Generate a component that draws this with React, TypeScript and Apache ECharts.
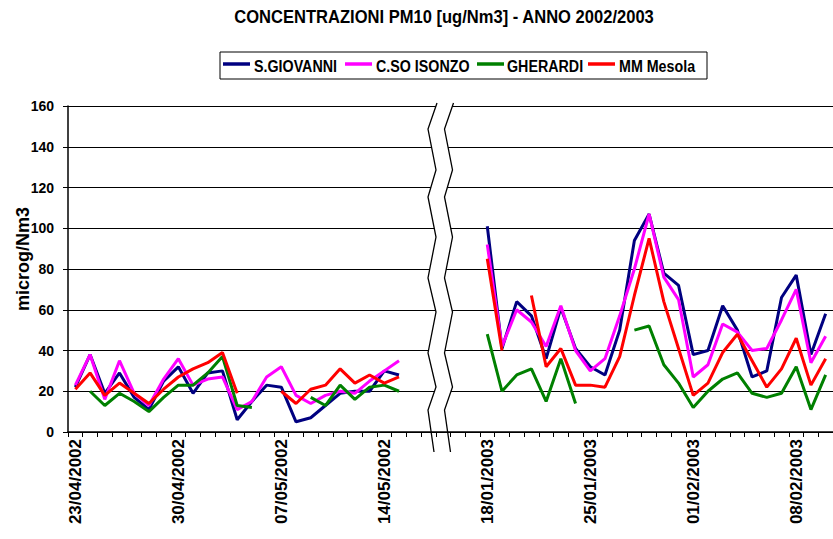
import React, { useEffect, useRef } from 'react';
import * as echarts from 'echarts';

const categories = [
  '23/04/2002', '24/04/2002', '25/04/2002', '26/04/2002', '27/04/2002', '28/04/2002', '29/04/2002',
  '30/04/2002', '01/05/2002', '02/05/2002', '03/05/2002', '04/05/2002', '05/05/2002', '06/05/2002',
  '07/05/2002', '08/05/2002', '09/05/2002', '10/05/2002', '11/05/2002', '12/05/2002', '13/05/2002',
  '14/05/2002', '15/05/2002', '', '', '', '', '',
  '18/01/2003', '19/01/2003', '20/01/2003', '21/01/2003', '22/01/2003', '23/01/2003', '24/01/2003',
  '25/01/2003', '26/01/2003', '27/01/2003', '28/01/2003', '29/01/2003', '30/01/2003', '31/01/2003',
  '01/02/2003', '02/02/2003', '03/02/2003', '04/02/2003', '05/02/2003', '06/02/2003', '07/02/2003',
  '08/02/2003', '09/02/2003', '10/02/2003',
];

const seriesNames = ['S.GIOVANNI', 'C.SO ISONZO', 'GHERARDI', 'MM Mesola'];
const seriesColors = ['#000080', '#ff00ff', '#008000', '#ff0000'];

const sGiovanni = [
  22, 38, 19, 29, 17, 11, 25, 32, 19, 29, 30, 6, 15, 23, 22, 5, 7, 13, 19, 20, 20, 30, 28,
  null, null, null, null, null,
  101, 41, 64, 57, 36, 61, 41, 32, 28, 50, 94, 107, 78, 72, 38, 40, 62, 50, 27, 30, 66, 77, 38, 58,
];
const cSoIsonzo = [
  23, 38, 16, 35, 19, 13, 26, 36, 23, 26, 27, 11, 15, 27, 32, 18, 14, 18, 20, 19, 25, 30, 35,
  null, null, null, null, null,
  92, 42, 60, 54, 42, 62, 40, 30, 36, 57, 80, 107, 76, 65, 27, 33, 53, 49, 40, 41, 55, 70, 34, 47,
];
const gherardi = [
  null, 20, 13, 19, 15, 10, 17, 23, 23, 29, 37, 13, 12, null, null, null, 17, 13, 23, 16, 22, 23, 20,
  null, null, null, null, null,
  48, 20, 28, 31, 15, 36, 14, null, null, null, 50, 52, 33, 24, 12, 20, 26, 29, 19, 17, 19, 32, 11, 28,
];
const mmMesola = [
  21, 29, 18, 24, 19, 14, 21, 27, 31, 34, 39, 19, null, null, 20, 14, 21, 23, 31, 24, 28, 24, 27,
  null, null, null, null, null,
  85, 40, null, 67, 32, 41, 23, 23, 22, 37, 67, 95, 64, 41, 18, 24, 39, 48, 35, 22, 31, 46, 23, 36,
];
const seriesData = [sGiovanni, cSoIsonzo, gherardi, mmMesola];

const FONT = 'Liberation Sans, Arial, Helvetica, sans-serif';

// axis-break zigzag (decoration)
const breakLeft: number[][] = [
  [437, 103], [428, 129], [436, 170], [428, 197], [436, 237], [428, 278],
  [436, 312], [428, 353], [436, 387], [428, 410], [434, 452],
];
const breakOffset = 16.5;

export default function App() {
  const ref = useRef<HTMLDivElement>(null);

  useEffect(() => {
    const chart = echarts.init(ref.current!, null, { renderer: 'svg' });

    const breakRight = breakLeft.map(([x, y]) => [x + breakOffset, y]);
    const fillPoly = breakLeft
      .map(([x, y]) => [x, Math.min(y, 430)])
      .concat(breakRight.slice().reverse().map(([x, y]) => [x, Math.min(y, 430)]));

    const legendLeft = [223, 345, 477, 588];
    const legendTextLeft = [254, 376, 507, 619];
    const legendY = 64;

    const graphics: any[] = [
      {
        type: 'text',
        x: 444,
        y: 17,
        scaleX: 0.92,
        z: 50,
        style: {
          text: 'CONCENTRAZIONI PM10 [ug/Nm3] - ANNO 2002/2003',
          fill: '#000',
          font: `bold 18px ${FONT}`,
          textAlign: 'center',
          textVerticalAlign: 'middle',
          align: 'center',
          verticalAlign: 'middle',
        },
      },
      {
        type: 'rect',
        z: 50,
        shape: { x: 220, y: 52, width: 487, height: 27 },
        style: { fill: '#fff', stroke: '#000', lineWidth: 1 },
      },
      {
        type: 'text',
        x: 23,
        y: 259,
        rotation: Math.PI / 2,
        z: 50,
        style: {
          text: 'microg/Nm3',
          fill: '#000',
          font: `bold 18px ${FONT}`,
          textAlign: 'center',
          textVerticalAlign: 'middle',
          align: 'center',
          verticalAlign: 'middle',
        },
      },
      {
        type: 'polygon',
        z: 50,
        shape: { points: fillPoly },
        style: { fill: '#fff', stroke: null },
      },
      {
        type: 'polyline',
        z: 51,
        shape: { points: breakLeft },
        style: { stroke: '#000', lineWidth: 1.3, fill: null },
      },
      {
        type: 'polyline',
        z: 51,
        shape: { points: breakRight },
        style: { stroke: '#000', lineWidth: 1.3, fill: null },
      },
    ];

    seriesNames.forEach((name, i) => {
      graphics.push({
        type: 'line',
        z: 51,
        shape: { x1: legendLeft[i], y1: legendY, x2: legendLeft[i] + 27, y2: legendY },
        style: { stroke: seriesColors[i], lineWidth: 3.5 },
      });
      graphics.push({
        type: 'text',
        x: legendTextLeft[i],
        y: legendY + 2,
        scaleX: 0.84,
        z: 51,
        style: {
          text: name,
          fill: '#000',
          font: `bold 17px ${FONT}`,
          textAlign: 'left',
          textVerticalAlign: 'middle',
          align: 'left',
          verticalAlign: 'middle',
        },
      });
    });

    chart.setOption({
      animation: false,
      backgroundColor: '#fff',
      grid: { left: 68, right: -7, top: 106, bottom: 107, containLabel: false },
      xAxis: {
        type: 'category',
        data: categories,
        boundaryGap: true,
        axisLine: { show: true, lineStyle: { color: '#000', width: 1.5 } },
        axisTick: { show: true, interval: 0, length: 5, alignWithLabel: false, lineStyle: { color: '#000' } },
        axisLabel: {
          interval: 6,
          rotate: 90,
          margin: 7,
          color: '#000',
          fontWeight: 'bold',
          fontSize: 17,
          fontFamily: FONT,
        },
        splitLine: { show: false },
      },
      yAxis: {
        type: 'value',
        min: 0,
        max: 160,
        interval: 20,
        axisLine: { show: true, lineStyle: { color: '#000', width: 1.5 } },
        axisTick: { show: true, length: 5, lineStyle: { color: '#000' } },
        axisLabel: {
          color: '#000',
          fontWeight: 'bold',
          fontSize: 14,
          fontFamily: FONT,
          margin: 14,
        },
        splitLine: { show: true, lineStyle: { color: '#000', width: 1 } },
      },
      series: seriesNames.map((name, i) => ({
        name,
        type: 'line',
        data: seriesData[i],
        showSymbol: false,
        symbol: 'none',
        connectNulls: false,
        lineStyle: { color: seriesColors[i], width: 3 },
        itemStyle: { color: seriesColors[i] },
      })),
      graphic: graphics,
    });

    return () => chart.dispose();
  }, []);

  return (
    <div
      ref={ref}
      style={{ position: 'absolute', left: 0, top: 0, width: 833, height: 539 }}
    />
  );
}
